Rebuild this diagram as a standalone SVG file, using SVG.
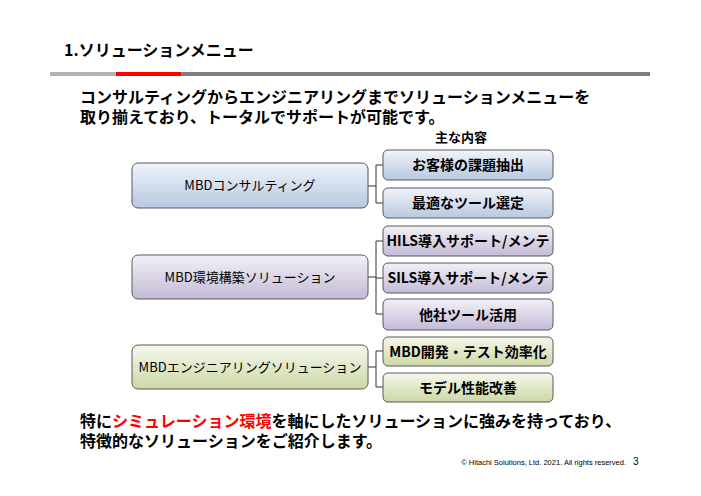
<svg xmlns="http://www.w3.org/2000/svg" width="701" height="496" viewBox="0 0 701 496">
<defs>
<linearGradient id="gb" x1="0" y1="0" x2="0" y2="1"><stop offset="0" stop-color="#f1f4fa"/><stop offset="1" stop-color="#b7c8e0"/></linearGradient>
<linearGradient id="gp" x1="0" y1="0" x2="0" y2="1"><stop offset="0" stop-color="#f3f1f7"/><stop offset="1" stop-color="#c3bad6"/></linearGradient>
<linearGradient id="gg" x1="0" y1="0" x2="0" y2="1"><stop offset="0" stop-color="#f6f8ec"/><stop offset="1" stop-color="#ccd8a6"/></linearGradient>
<style>
text{font-family:"Noto Sans CJK JP","Noto Sans",sans-serif;fill:#000}
.box{stroke:#595959;stroke-width:1}
.lt{font-size:13px;text-anchor:middle}
.rt{font-size:14px;font-weight:bold;text-anchor:middle}
.body{font-size:16px;font-weight:bold}
.con{fill:none;stroke:#333;stroke-width:1}
</style>
</defs>
<rect width="701" height="496" fill="#fff"/>
<text x="64" y="56" style="font-size:16px;font-weight:bold">1.ソリューションメニュー</text>
<rect x="50" y="72" width="66" height="4" fill="#b3b3b3"/>
<rect x="116" y="72" width="65" height="4" fill="#ff0000"/>
<rect x="181" y="72" width="469" height="4" fill="#7f7f7f"/>
<text class="body" x="80" y="103">コンサルティングからエンジニアリングまでソリューションメニューを</text>
<text class="body" x="80" y="123">取り揃えており、トータルでサポートが可能です。</text>
<text x="461" y="142" style="font-size:13px;font-weight:bold;text-anchor:middle">主な内容</text>
<g id="connectors">
<path class="con" d="M368,186H376M376,165V203M376,165H383M376,203H383"/>
<path class="con" d="M368,277H376M376,241V314M376,241H383M376,278H383M376,314H383"/>
<path class="con" d="M368,367H376M376,351V387M376,351H383M376,387H383"/>
</g>
<g id="n1"><rect class="box" x="132" y="163" width="236" height="45" rx="6" fill="url(#gb)"/><text class="lt" x="250" y="190">MBDコンサルティング</text></g>
<g id="n2"><rect class="box" x="132" y="255" width="236" height="44" rx="6" fill="url(#gp)"/><text class="lt" x="250" y="282">MBD環境構築ソリューション</text></g>
<g id="n3"><rect class="box" x="132" y="345" width="236" height="44" rx="6" fill="url(#gg)"/><text class="lt" x="250" y="372">MBDエンジニアリングソリューション</text></g>
<g id="r1"><rect class="box" x="383" y="150" width="170" height="30" rx="5" fill="url(#gb)"/><text class="rt" x="468" y="170">お客様の課題抽出</text></g>
<g id="r2"><rect class="box" x="383" y="188" width="170" height="30" rx="5" fill="url(#gb)"/><text class="rt" x="468" y="208">最適なツール選定</text></g>
<g id="r3"><rect class="box" x="383" y="226" width="170" height="30" rx="5" fill="url(#gp)"/><text class="rt" x="468" y="246">HILS導入サポート/メンテ</text></g>
<g id="r4"><rect class="box" x="383" y="263" width="170" height="30" rx="5" fill="url(#gp)"/><text class="rt" x="468" y="283">SILS導入サポート/メンテ</text></g>
<g id="r5"><rect class="box" x="383" y="299" width="170" height="31" rx="5" fill="url(#gp)"/><text class="rt" x="468" y="320">他社ツール活用</text></g>
<g id="r6"><rect class="box" x="383" y="337" width="170" height="29" rx="5" fill="url(#gg)"/><text class="rt" x="468" y="357">MBD開発・テスト効率化</text></g>
<g id="r7"><rect class="box" x="383" y="373" width="170" height="29" rx="5" fill="url(#gg)"/><text class="rt" x="468" y="393">モデル性能改善</text></g>
<text class="body" x="80" y="427">特に<tspan style="fill:#ff0000">シミュレーション環境</tspan>を軸にしたソリューションに強みを持っており、</text>
<text class="body" x="80" y="447">特徴的なソリューションをご紹介します。</text>
<text x="626" y="465" style="font-size:7.5px;font-family:'Liberation Sans',sans-serif;text-anchor:end">© Hitachi Solutions, Ltd. 2021. All rights reserved.</text>
<text x="633" y="465" style="font-size:10px;font-family:'Liberation Sans',sans-serif">3</text>
</svg>
